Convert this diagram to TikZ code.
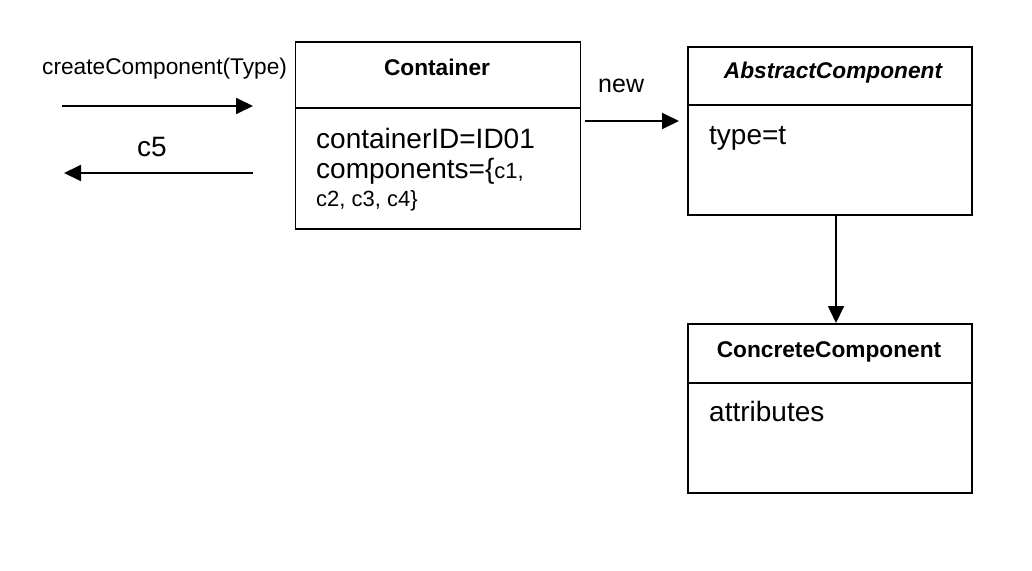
\documentclass[tikz,border=0pt]{standalone}
\usepackage{fontspec}
\setmainfont{Liberation Sans}
\usetikzlibrary{arrows.meta}
\begin{document}
\begin{tikzpicture}[x=1pt,y=-1pt,
  box/.style={draw, line width=1.8pt, rectangle, inner sep=0pt, anchor=north west},
  divider/.style={line width=1.8pt},
  arr/.style={line width=1.8pt, -{Triangle[length=17pt,width=16pt]}},
  lbl/.style={inner sep=0pt, anchor=base west},
  ttl/.style={inner sep=0pt, anchor=base, font=\fontsize{22.7}{26}\selectfont\bfseries},
  big/.style={font=\fontsize{28}{32}\selectfont},
]
\useasboundingbox (0,0) rectangle (1032,570);
% boxes
\node[box, minimum width=285pt, minimum height=187pt] (container) at (294.5,41) {};
\node[box, minimum width=284pt, minimum height=168pt] (abstract) at (687,46) {};
\node[box, minimum width=284pt, minimum height=169pt] (concrete) at (687,323) {};
% dividers
\coordinate (d1) at (0,108);
\coordinate (d2) at (0,105);
\coordinate (d3) at (0,383);
\draw[divider] (container.west |- d1) -- (container.east |- d1);
\draw[divider] (abstract.west |- d2) -- (abstract.east |- d2);
\draw[divider] (concrete.west |- d3) -- (concrete.east |- d3);
% titles
\node[ttl] (tc) at (437,75) {Container};
\node[ttl] (ta) at (833,78) {\itshape AbstractComponent};
\node[ttl] (tcc) at (829,357) {ConcreteComponent};
% attributes
\node[lbl, big] (a1) at (316,148) {containerID=ID01};
\node[lbl, big] (a2) at (316,178) {components=\{\fontsize{22}{26}\selectfont c1,};
\node[lbl, font=\fontsize{22}{26}\selectfont] (a3) at (316,206) {c2, c3, c4\}};
\node[lbl, big] (a4) at (709,144) {type=t};
\node[lbl, big] (a5) at (709,421) {attributes};
% message labels
\node[lbl, font=\fontsize{22.7}{26}\selectfont] (m1) at (42,74) {createComponent(Type)};
\node[lbl, big] (m2) at (137,156) {c5};
\node[lbl, font=\fontsize{25}{28}\selectfont] (m3) at (598,92) {new};
% connectors
\coordinate (s1) at (62,106);
\coordinate (e1) at (253,106);
\coordinate (s2) at (253,173);
\coordinate (e2) at (64,173);
\coordinate (s3) at (585,121);
\coordinate (e3) at (679,121);
\coordinate (vx) at (836,0);
\draw[arr] (s1) -- (e1);
\draw[arr] (s2) -- (e2);
\draw[arr] (s3) -- (e3);
\draw[arr] (abstract.south -| vx) -- (concrete.north -| vx);
\end{tikzpicture}
\end{document}
